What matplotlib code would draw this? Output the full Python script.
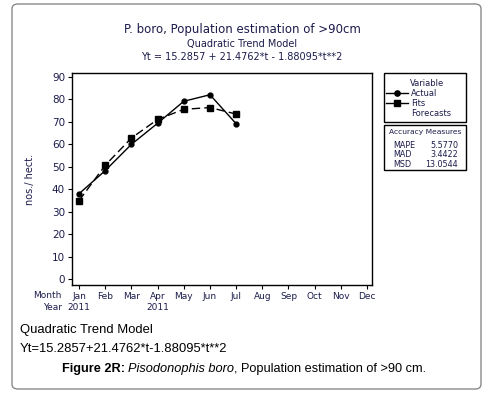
# %%
## Imports ##

import matplotlib
matplotlib.use("Agg")
import matplotlib.pyplot as plt
from matplotlib.lines import Line2D
from matplotlib.patches import FancyBboxPatch, Rectangle

# %%
## Data ##

months = ["Jan", "Feb", "Mar", "Apr", "May", "Jun", "Jul", "Aug", "Sep", "Oct", "Nov", "Dec"]
t_actual = [1, 2, 3, 4, 5, 6, 7]
actual = [38.0, 48.3, 60.0, 69.4, 79.2, 82.1, 69.2]
fits = [34.9, 50.7, 62.8, 71.1, 75.6, 76.4, 73.5]
y_ticks = [0, 10, 20, 30, 40, 50, 60, 70, 80, 90]
legend_labels = ["Actual", "Fits", "Forecasts"]
legend_markers = ["o", "s", None]
accuracy_names = ["MAPE", "MAD", "MSD"]
accuracy_values = ["5.5770", "3.4422", "13.0544"]

txt_col = "#1c1c4c"
W, H = 500, 397


def fx(px):
    return px / W


def fy(py):
    return 1 - py / H


# %%
## Main ##

fig = plt.figure(figsize=(5, 3.97), dpi=100)
fig.patch.set_facecolor("white")

# outer rounded frame
frame = FancyBboxPatch((fx(12), fy(389)), fx(469), 385 / H,
                       boxstyle="round,pad=0,rounding_size=0.012",
                       transform=fig.transFigure, facecolor="none",
                       edgecolor="#8a8a8a", linewidth=1.0, zorder=-1)
fig.patches.append(frame)

# titles
fig.text(0.484, fy(30), "P. boro, Population estimation of >90cm", ha="center", va="center",
         fontsize=8.5, color=txt_col, family="DejaVu Sans")
fig.text(0.484, fy(44), "Quadratic Trend Model", ha="center", va="center",
         fontsize=7, color=txt_col, family="DejaVu Sans")
fig.text(0.484, fy(57), "Yt = 15.2857 + 21.4762*t - 1.88095*t**2", ha="center", va="center",
         fontsize=7, color=txt_col, family="DejaVu Sans")

# main axes
ax = fig.add_axes([fx(72), fy(285), fx(300), (285 - 73) / H])
ax.plot(t_actual, actual, color="black", linewidth=1.0, marker="o", markersize=3.5)
ax.plot(t_actual, fits, color="black", linewidth=1.0, linestyle=(0, (6, 3)),
        marker="s", markersize=3.8)
ax.set_xlim(0.73, 12.19)
ax.set_ylim(-2.7, 91.8)
ax.set_yticks(y_ticks)
ax.set_xticks(range(1, 13))
ax.set_xticklabels(months)
ax.tick_params(axis="both", labelsize=6.5, colors="black", length=3, width=0.8,
               labelcolor=txt_col, pad=2)
ax.tick_params(axis="y", labelsize=7.5)
for s in ax.spines.values():
    s.set_linewidth(1.0)
ax.set_ylabel("nos./ hect.", fontsize=7, color=txt_col, labelpad=12)

# Month / Year rows
fig.text(fx(62), fy(296), "Month", ha="right", va="center", fontsize=6.5, color=txt_col)
fig.text(fx(62), fy(307), "Year", ha="right", va="center", fontsize=6.5, color=txt_col)
for m in (1, 4):
    ax.annotate("2011", xy=(m, 0), xycoords=("data", "axes fraction"),
                xytext=(0, -16), textcoords="offset points", ha="center", va="center",
                fontsize=6.5, color=txt_col)

# legend box (drawn by hand, Minitab style)
fig.patches.append(Rectangle((fx(384), fy(122)), fx(82), 49 / H, transform=fig.transFigure,
                             facecolor="white", edgecolor="black", linewidth=1.0))
fig.text(fx(427), fy(83), "Variable", ha="center", va="center", fontsize=6, color=txt_col)
for i, (lab, mk) in enumerate(zip(legend_labels, legend_markers)):
    y = fy(93 + i * 10)
    if mk is not None:
        fig.lines.append(Line2D([fx(386), fx(408)], [y, y], transform=fig.transFigure,
                                color="black", linewidth=1.0))
        fig.lines.append(Line2D([fx(397)], [y], transform=fig.transFigure, color="black",
                                marker=mk, markersize=3.8))
    fig.text(fx(411), y, lab, ha="left", va="center", fontsize=6, color=txt_col)

# accuracy box
fig.patches.append(Rectangle((fx(384), fy(170)), fx(82), 45 / H, transform=fig.transFigure,
                             facecolor="white", edgecolor="black", linewidth=1.0))
fig.text(fx(425), fy(132), "Accuracy Measures", ha="center", va="center", fontsize=5.4,
         color=txt_col)
for i, (n, v) in enumerate(zip(accuracy_names, accuracy_values)):
    y = fy(145 + i * 9.7)
    fig.text(fx(393), y, n, ha="left", va="center", fontsize=5.8, color=txt_col)
    fig.text(fx(458), y, v, ha="right", va="center", fontsize=5.8, color=txt_col)

# bottom caption
fig.text(fx(20), fy(330), "Quadratic Trend Model", ha="left", va="center",
         fontsize=9.4, color="black", family="Liberation Sans")
fig.text(fx(20), fy(349), "Yt=15.2857+21.4762*t-1.88095*t**2", ha="left", va="center",
         fontsize=9.4, color="black", family="Liberation Sans")

renderer = fig.canvas.get_renderer()
x = fx(62)
for part, weight, style in [("Figure 2R: ", "bold", "normal"),
                            ("Pisodonophis boro", "normal", "italic"),
                            (", Population estimation of >90 cm.", "normal", "normal")]:
    t = fig.text(x, fy(369), part, ha="left", va="center", fontsize=9.2, color="black",
                 family="Liberation Sans", fontweight=weight, fontstyle=style)
    bb = t.get_window_extent(renderer)
    x += bb.width / fig.bbox.width

fig.savefig("out.png", dpi=100)
